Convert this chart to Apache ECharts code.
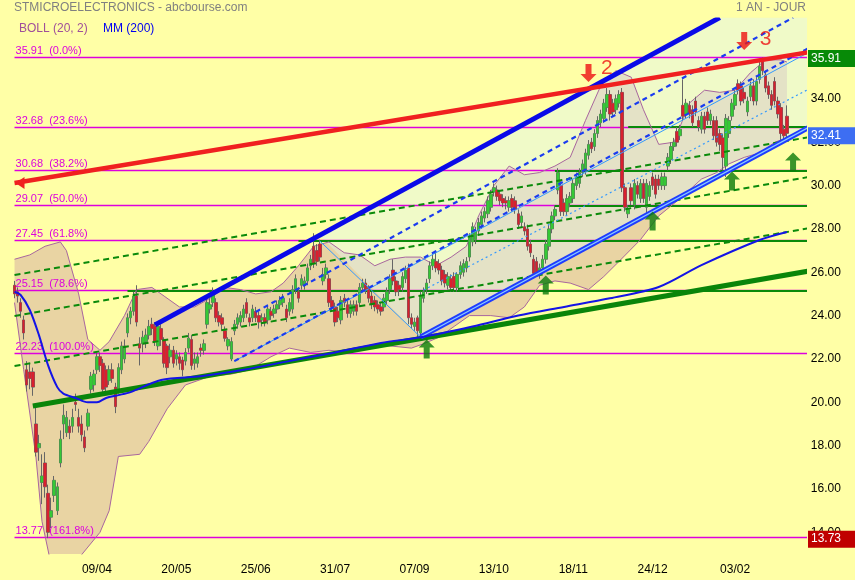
<!DOCTYPE html>
<html><head><meta charset="utf-8">
<script src="https://cdn.jsdelivr.net/npm/echarts@6/dist/echarts.min.js"></script>
<style>html,body{margin:0;padding:0;background:#ffffa6;}#c{width:855px;height:580px;}</style>
</head><body><div id="c"></div>
<script>
// ---------- DATA ----------
// daily candles [open, close, low, high], from 03/03/2020 to 26/02/2021
const candles = [
[25.4,25.0,24.8,25.6],[25.1,24.9,24.6,25.3],[24.6,24.2,23.9,24.8],[23.8,23.2,22.9,24.0],[21.5,20.8,20.5,21.9],
[21.4,21.1,20.6,21.8],[21.4,20.7,20.3,21.6],[19.0,17.7,17.5,19.9],[17.9,18.1,17.3,18.5],[16.3,16.6,15.3,17.6],
[17.2,16.1,15.6,17.7],[15.8,14.0,13.73,16.2],[14.7,15.0,14.2,15.6],[15.7,16.4,15.4,16.6],[15.0,16.1,14.8,16.3],
[17.2,18.3,17.0,18.7],[19.0,19.4,18.3,19.9],[18.6,19.3,18.4,19.6],[18.9,18.6,18.3,19.2],[18.9,19.3,18.6,19.7],
[20.0,19.9,19.6,20.4],[19.3,18.9,18.6,19.7],[19.0,18.5,18.2,19.4],[18.4,17.9,17.7,18.7],[18.9,19.5,18.7,19.7],
[20.6,21.2,20.4,21.4],[20.8,21.3,20.5,21.5],[21.5,22.1,21.3,22.3],[22.1,21.7,21.4,22.3],[21.8,20.6,20.4,22.0],
[21.5,20.7,20.4,21.7],[21.0,21.5,20.8,21.7],[21.5,21.1,20.9,21.8],[20.7,19.8,19.5,20.9],[20.6,21.6,20.4,21.8],
[21.5,22.6,21.3,22.8],[22.0,22.6,21.8,22.9],[23.2,23.9,23.0,24.1],[23.9,24.2,23.6,24.4],[24.2,24.9,24.0,25.1],
[24.9,23.7,23.5,25.4],[22.7,22.5,21.7,23.0],[22.7,23.0,22.3,23.3],[22.8,23.1,22.5,23.4],[23.1,23.5,22.9,23.8],
[23.6,23.4,23.1,23.9],[23.5,22.8,22.6,23.7],[22.6,23.5,22.4,23.7],[23.4,22.9,22.6,23.6],[22.9,21.8,21.6,23.0],
[22.6,21.6,21.3,22.7],[22.1,22.4,21.8,22.7],[22.4,21.8,21.6,22.6],[22.0,22.2,21.7,22.4],[22.1,21.8,21.5,22.3],
[21.95,21.5,21.2,22.1],[21.9,22.3,21.7,22.5],[22.5,22.96,22.3,23.2],[22.9,21.7,21.5,23.1],[21.8,22.0,21.5,22.3],
[21.8,22.1,21.6,22.3],[22.5,22.4,22.1,22.7],[22.4,22.7,22.2,22.9],[23.6,24.6,23.4,24.9],[24.3,24.5,24.1,24.8],
[24.6,25.1,24.4,25.3],[24.6,23.9,23.7,24.8],[24.0,23.7,23.5,24.2],[23.9,23.6,23.3,24.1],[23.3,22.95,22.8,23.5],
[22.6,22.9,22.4,23.0],[22.0,22.8,21.9,23.0],[23.3,23.6,23.1,23.8],[23.6,23.9,23.4,24.1],[23.7,24.0,23.5,24.2],
[23.9,24.3,23.7,24.5],[24.6,24.1,23.9,24.8],[23.9,23.7,23.5,24.1],[23.9,24.3,23.7,24.5],[24.2,23.9,23.7,24.4],
[24.0,23.7,23.4,24.2],[23.8,23.9,23.5,24.1],[23.9,23.7,23.5,24.1],[23.8,24.3,23.6,24.5],[24.2,24.0,23.8,24.4],
[24.1,24.3,23.9,24.5],[24.3,24.5,24.1,24.7],[24.5,24.7,24.3,24.9],[24.6,24.8,24.4,25.0],[24.3,23.9,23.7,24.5],
[24.2,24.6,24.0,24.8],[24.3,25.2,24.1,25.4],[25.2,25.7,25.0,25.9],[25.1,24.8,24.6,25.3],[25.4,25.7,25.2,25.9],
[25.4,25.6,25.2,25.8],[25.6,26.2,25.4,26.4],[26.3,26.6,26.1,26.8],[27.2,26.4,26.2,27.8],[27.0,26.5,26.3,27.3],
[27.3,26.7,26.5,27.5],[25.6,25.9,25.4,26.2],[25.9,26.2,25.7,26.4],[25.7,24.6,24.4,25.9],[24.7,24.4,24.2,24.9],
[24.4,23.7,23.5,24.6],[24.2,23.9,23.7,24.4],[23.8,24.7,23.6,24.9],[24.8,24.6,24.4,25.0],[24.5,24.1,23.9,24.7],
[24.1,24.5,23.9,24.7],[24.2,24.5,24.0,24.7],[24.5,24.2,24.0,24.7],[24.6,25.3,24.4,25.5],[25.3,25.5,25.1,25.7],
[25.5,25.2,25.0,25.7],[25.3,24.8,24.6,25.4],[24.9,24.5,24.3,25.1],[24.7,24.4,24.2,24.9],[24.5,24.3,24.1,24.7],
[24.4,24.2,24.0,24.6],[24.4,24.8,24.2,25.0],[24.7,25.1,24.5,25.3],[25.2,25.7,25.0,25.9],[26.1,25.6,25.4,26.6],
[25.6,25.1,24.9,25.8],[25.4,25.2,24.9,25.6],[25.3,25.8,25.1,26.0],[25.7,26.1,25.5,26.3],[26.2,23.9,23.6,26.4],
[23.9,23.6,23.4,24.1],[23.5,23.7,23.3,23.9],[23.9,23.3,22.97,24.0],[23.2,24.9,23.0,25.1],[24.8,25.1,24.6,25.3],
[25.2,25.5,25.0,25.7],[25.7,26.3,25.5,26.5],[26.3,26.6,26.1,26.8],[26.5,26.2,26.0,26.9],[26.4,26.1,25.9,26.6],
[26.1,25.6,25.4,26.3],[25.9,25.5,25.3,26.1],[25.4,25.8,25.2,26.0],[25.7,25.3,25.1,25.9],[25.8,25.3,25.1,26.0],
[25.3,25.9,25.1,26.0],[25.9,26.3,25.7,26.5],[26.0,26.4,25.8,26.6],[26.2,26.5,26.0,26.7],[26.7,27.6,26.5,27.8],
[27.4,28.1,27.2,28.3],[27.5,27.9,27.3,28.1],[27.9,28.3,27.7,28.5],[28.2,28.6,28.0,28.8],[28.5,28.8,28.3,29.0],
[28.7,29.3,28.5,29.5],[29.0,29.6,28.8,29.8],[29.7,29.9,29.5,30.1],[29.8,29.5,29.3,30.0],[29.6,29.3,29.1,29.8],
[29.4,29.2,29.0,29.6],[29.3,29.2,28.9,29.5],[29.0,29.3,28.8,29.5],[29.4,29.0,28.8,29.6],[29.3,28.9,28.7,29.5],
[28.7,28.2,28.0,28.9],[28.3,28.6,28.1,28.8],[28.1,27.9,27.7,28.3],[28.0,27.2,27.0,28.2],[27.3,26.9,26.7,27.5],
[26.6,25.95,25.8,26.8],[26.5,26.0,25.8,26.7],[25.9,26.2,25.7,26.4],[26.2,26.6,26.0,26.8],[26.6,27.3,26.4,27.5],
[27.2,28.0,27.0,28.2],[28.0,28.6,27.8,28.8],[28.6,28.9,28.4,29.1],[29.8,30.6,29.6,30.8],[30.0,28.8,28.6,30.2],
[29.2,28.8,28.6,29.4],[28.8,29.4,28.6,29.6],[29.2,29.5,29.0,29.7],[29.4,30.1,29.2,30.3],[30.0,30.4,29.8,30.6],
[30.1,30.6,29.9,30.8],[30.6,31.0,30.4,31.2],[30.7,31.5,30.5,31.7],[31.4,31.9,31.2,32.1],[32.0,31.7,31.5,32.2],
[31.8,32.4,31.6,32.6],[32.4,33.0,32.2,33.2],[32.9,33.3,32.7,33.5],[33.1,33.8,32.9,34.0],[33.6,34.2,33.4,34.5],
[34.2,33.3,33.0,34.4],[33.8,33.4,33.2,34.0],[33.5,34.0,33.3,34.2],[33.8,34.2,33.6,34.4],[34.3,29.9,29.7,34.5],
[29.9,29.0,28.8,30.1],[28.7,28.9,28.5,29.1],[29.9,29.3,29.1,30.1],[29.1,30.1,28.9,30.3],[30.0,29.6,29.4,30.2],
[29.4,30.1,29.2,30.3],[30.1,29.4,29.2,30.3],[29.0,30.1,28.6,30.3],[29.5,30.0,29.3,30.2],[30.4,30.0,29.8,30.6],
[30.3,29.6,29.4,30.5],[30.3,30.0,29.8,30.5],[30.0,30.4,29.8,30.6],[30.0,30.4,29.8,30.6],[30.9,31.3,30.7,31.5],
[31.2,31.8,31.0,32.0],[31.8,32.0,31.6,32.2],[32.5,32.0,31.8,32.7],[32.3,32.6,32.1,32.8],[33.7,33.2,33.0,34.9],
[33.3,33.8,33.1,34.0],[33.7,33.3,33.1,33.9],[33.5,32.9,32.7,33.7],[33.9,33.4,33.2,34.1],[33.0,32.7,32.5,33.2],
[32.6,33.2,32.4,33.4],[33.2,32.6,32.4,33.4],[33.4,33.0,32.8,33.6],[33.0,33.3,32.8,33.5],[33.0,32.3,32.1,33.2],
[33.0,32.0,31.8,33.2],[32.4,31.9,31.6,32.6],[32.2,31.3,30.7,32.4],[30.9,33.1,30.4,33.3],[32.4,33.0,32.2,33.2],
[33.2,33.8,33.0,34.0],[33.7,34.2,33.5,34.4],[34.7,34.4,34.2,34.9],[34.6,33.9,33.7,34.8],[34.3,34.0,33.8,34.5],
[33.4,33.9,33.2,34.1],[34.1,34.6,33.9,34.8],[34.6,33.9,33.7,34.9],[33.9,34.8,33.7,35.0],[34.9,35.5,34.7,35.7],
[35.7,35.3,35.1,35.91],[35.1,34.5,34.3,35.3],[34.6,34.2,34.0,34.8],[34.2,33.7,33.5,34.4],[34.8,33.9,33.7,35.0],
[33.9,33.3,33.1,34.1],[33.6,32.4,32.1,33.8],[32.6,32.3,32.0,32.8],[33.2,32.41,32.1,33.7]
];
const tickLabels = ['09/04','20/05','25/06','31/07','07/09','13/10','18/11','24/12','03/02'];
const yTicks = [14,16,18,20,22,24,26,28,30,32,34,36];
// Bollinger (20,2) bands: [candle index, price]
const bollUpper = [[0,26.6],[5,26.8],[10,27.2],[15,27.4],[17,27.0],[21,25.0],[24,22.9],[28,22.4],[31,22.8],[36,24.0],[40,25.2],[45,25.3],[49,24.9],[54,24.4],[59,24.4],[64,24.8],[69,25.3],[74,25.2],[79,25.0],[84,25.1],[88,25.5],[93,26.3],[98,27.2],[103,27.4],[108,26.9],[113,26.8],[118,26.3],[123,26.6],[128,26.7],[133,26.7],[138,26.3],[143,26.7],[148,27.2],[152,28.6],[157,30.0],[162,30.9],[167,30.5],[172,30.6],[177,30.9],[182,31.3],[187,33.0],[192,34.6],[197,35.3],[202,35.0],[206,33.5],[211,31.9],[216,32.0],[221,33.8],[226,34.4],[231,34.3],[236,34.4],[241,35.2],[246,35.8],[251,35.8],[253,35.7]];
const bollLower = [[0,24.6],[3,21.5],[7,17.5],[9,14.5],[12,12.5],[16,12.5],[21,12.8],[28,14.0],[31,15.0],[34,17.5],[41,17.6],[44,18.2],[50,19.7],[56,20.8],[64,21.2],[71,21.3],[77,21.5],[84,22.1],[90,22.5],[97,22.3],[103,22.4],[110,22.3],[116,22.6],[123,22.6],[130,22.5],[134,22.7],[139,23.0],[144,23.5],[149,24.0],[156,24.0],[162,23.9],[167,24.4],[172,25.4],[177,25.6],[182,25.5],[188,25.2],[193,25.8],[198,26.5],[205,27.5],[211,28.6],[218,29.4],[225,30.3],[230,30.6],[234,31.0],[239,31.3],[244,31.5],[249,32.0],[253,32.2]];
// MM(200)
const ma200 = [[0,25.1],[2,24.95],[5,24.26],[8,23.1],[11,21.7],[14,20.7],[16,20.4],[20,20.2],[24,20.0],[27,20.0],[30,20.2],[34,20.33],[38,20.47],[48,21.03],[61,21.2],[75,21.5],[90,21.9],[105,22.3],[120,22.74],[133,23.0],[150,23.5],[165,24.0],[180,24.4],[195,24.8],[211,25.32],[225,26.33],[244,27.49],[253,27.86]];
// Fibonacci retracement levels
const fibLevels = [35.91,32.68,30.68,29.07,27.45,25.15,22.23,13.77];
const fibPct = ['0.0%','23.6%','38.2%','50.0%','61.8%','78.6%','100.0%','161.8%'];
// support levels drawn in green: [price, first candle index]
const supportLevels = [[25.15,36.8],[27.45,92.8],[29.07,177.4],[30.68,176.7],[32.68,201.3]];
// trend lines: [index1, price1, index2, price2]
const resistanceLine = [-0.5,30.12,259.5,36.15];
const channelTop = [46.0,23.57,231.3,37.75];
const channelBottom = [132.8,23.01,259.5,32.675];
const supportLine = [6.05,19.83,259.5,26.05];
const dashedGreen = [[-0.5,25.87,259.5,32.23],[-0.5,23.98,259.5,30.39],[-0.5,21.67,259.5,28.03]];
const dashedBlue = [[78.8,24.17,255.0,37.75],[71.6,21.90,259.5,36.34]];
const thinBlue = [[71.6,21.90,259.5,36.14],[100.06,27.44,132.8,23.01]];
const dottedBlue = [[133.8,25.18,259.5,34.44]];
const channelArea = [[100.06,27.70],[231.3,37.75],[259.5,37.75],[259.5,32.675],[132.8,23.01]];
// signals
const upArrows = [[135.1,22.46],[174.4,25.41],[209.4,28.36],[235.3,30.21],[254.7,31.09]];
const downArrows = [[187.5,35.19],[238.6,36.67]];
const waveLabels = [[193.7,35.43,'2'],[245.8,36.76,'3']];
// price tags: [price, kind]
const priceTags = [[35.91,'high'],[32.41,'last'],[13.73,'low']];

// ---------- AXIS CATEGORIES ----------
const holidays = ['2020-04-10','2020-04-13','2020-05-01','2020-12-25','2021-01-01'];
const dates = [];
for (let d = new Date(Date.UTC(2020,2,3)); dates.length < 260; d.setUTCDate(d.getUTCDate()+1)) {
  const wd = d.getUTCDay(); if (wd === 0 || wd === 6) continue;
  const iso = d.toISOString().slice(0,10); if (holidays.includes(iso)) continue;
  dates.push(iso.slice(8,10)+'/'+iso.slice(5,7)+'/'+iso.slice(0,4));
}

// ---------- CHART ----------
const FONT = '"Liberation Sans", Arial, sans-serif';
const chart = echarts.init(document.getElementById('c'), null, {renderer:'canvas'});
const one = [[0, 20]];
const GREEN = '#0a8a0a', MAG = '#dd00dd';

function seg(api, l, style) {
  const a = api.coord([l[0], l[1]]), b = api.coord([l[2], l[3]]);
  return {type:'line', shape:{x1:a[0],y1:a[1],x2:b[0],y2:b[1]}, style: style};
}
function hline(api, i1, i2, v, w, style) {
  const a = api.coord([i1, v]), b = api.coord([i2, v]);
  const y = w % 2 ? Math.round(a[1] - 0.5) + 0.5 : Math.round(a[1]);
  return {type:'line', shape:{x1:a[0],y1:y,x2:b[0],y2:y}, style: style};
}

const series = [
  { // Bollinger fill
    type:'custom', data: one, clip:true, silent:true, z:1,
    renderItem:(p, api) => {
      const pts = bollUpper.map(d => api.coord(d)).concat(bollLower.slice().reverse().map(d => api.coord(d)));
      return {type:'polygon', shape:{points:pts}, style:{fill:'#e9d4a3'}};
    }
  },
  { // channel fill
    type:'custom', data: one, clip:true, silent:true, z:1,
    renderItem:(p, api) => ({type:'polygon', shape:{points: channelArea.map(d => api.coord(d))}, style:{fill:'rgba(222,244,242,0.45)'}})
  },
  {type:'line', data: bollUpper, showSymbol:false, silent:true, z:2, lineStyle:{color:'#a8669e', width:1}},
  {type:'line', data: bollLower, showSymbol:false, silent:true, z:2, lineStyle:{color:'#a8669e', width:1}},
  { // fibonacci lines + labels
    type:'custom', data: fibLevels.map(v => [0, v]), clip:true, silent:true, z:2,
    renderItem:(p, api) => {
      const v = fibLevels[p.dataIndex];
      const ln = hline(api, -0.5, 259.5, v, 1, {stroke:MAG, lineWidth:1.5});
      return {type:'group', children:[ ln,
        {type:'text', x:ln.shape.x1+1, y:ln.shape.y1-1, style:{text: v.toFixed(2)+'  ('+fibPct[p.dataIndex]+')', fill:MAG, font:'11px '+FONT, align:'left', verticalAlign:'bottom'}}
      ]};
    }
  },
  { // green supports
    type:'custom', data: supportLevels.map(s => [0, s[0]]), clip:true, silent:true, z:2,
    renderItem:(p, api) => { const s = supportLevels[p.dataIndex]; return hline(api, s[1], 259.5, s[0], 2, {stroke:GREEN, lineWidth:2}); }
  },
  { // candle wicks
    type:'candlestick', data: candles, barWidth:3, silent:true, z:3,
    itemStyle:{color:'rgba(0,0,0,0)', color0:'rgba(0,0,0,0)', borderColor:'#666', borderColor0:'#666', borderWidth:1}
  },
  { // candle bodies
    type:'candlestick', data: candles, barWidth:3, silent:true, z:3,
    itemStyle:{color:'#35c935', color0:'#d9202e', borderColor:'#35c935', borderColor0:'#d9202e', borderWidth:0}
  },
  { // trend lines
    type:'custom', data: one, clip:true, silent:true, z:4,
    renderItem:(p, api) => {
      const ch = [];
      dashedGreen.forEach(l => ch.push(seg(api, l, {stroke:GREEN, lineWidth:2, lineDash:[6,4]})));
      thinBlue.forEach(l => ch.push(seg(api, l, {stroke:'#3399ff', lineWidth:1})));
      dottedBlue.forEach(l => ch.push(seg(api, l, {stroke:'#3399ff', lineWidth:1.2, lineDash:[2,3]})));
      dashedBlue.forEach(l => ch.push(seg(api, l, {stroke:'#1a3cf0', lineWidth:2.2, lineDash:[5,4]})));
      ch.push(seg(api, supportLine, {stroke:'#0a850a', lineWidth:5}));
      ch.push(seg(api, channelTop, {stroke:'#0a0ae8', lineWidth:5}));
      ch.push(seg(api, channelBottom, {stroke:'#1e3cff', lineWidth:5}));
      ch.push(seg(api, channelBottom, {stroke:'#8ccaff', lineWidth:1.2}));
      ch.push(seg(api, resistanceLine, {stroke:'#f02020', lineWidth:4.5}));
      const a = api.coord([resistanceLine[0], resistanceLine[1]]);
      ch.push({type:'polygon', shape:{points:[[a[0]+1,a[1]],[a[0]+10,a[1]-6],[a[0]+10,a[1]+6]]}, style:{fill:'#f02020'}});
      return {type:'group', children: ch};
    }
  },
  {type:'line', data: ma200, showSymbol:false, silent:true, z:4, smooth:0.3, lineStyle:{color:'#1414e6', width:2}},
  {type:'scatter', data: upArrows, silent:true, z:5, symbol:'path://M8 0 L16 8 L11 8 L11 19 L5 19 L5 8 L0 8 Z', symbolSize:[16,19], itemStyle:{color:'#0a7a0a'}},
  {type:'scatter', data: downArrows, silent:true, z:5, symbol:'path://M5 0 L11 0 L11 10 L16 10 L8 18 L0 10 L5 10 Z', symbolSize:[16,18], itemStyle:{color:'#ee1111'}},
  {type:'scatter', data: waveLabels.map(w => [w[0], w[1]]), silent:true, z:5, symbolSize:0,
   label:{show:true, position:'inside', formatter: q => waveLabels[q.dataIndex][2], color:'#ee1111', fontSize:21, fontFamily:FONT}},
  { // price tags
    type:'custom', data: priceTags.map(t => [0, t[0]]), clip:false, silent:true, z:6,
    renderItem:(p, api) => {
      const t = priceTags[p.dataIndex];
      const y = api.coord([0, t[0]])[1] + (t[1]==='last' ? 2.5 : 1);
      const bg = {high:'#078a07', last:'#3d6ef2', low:'#c00000'}[t[1]];
      return {type:'group', children:[
        {type:'rect', shape:{x:808, y:y-8.5, width:47, height:17}, style:{fill:bg}},
        {type:'text', x:811, y:y, style:{text:t[0].toFixed(2), fill:'#fff', font:'12px '+FONT, align:'left', verticalAlign:'middle'}}
      ]};
    }
  }
];

chart.setOption({
  backgroundColor:'#ffffa6',
  animation:false,
  grid:{left:13, right:48.2, top:17.6, bottom:26},
  xAxis:{type:'category', data:dates, boundaryGap:true, axisLine:{show:false}, axisTick:{show:false}, splitLine:{show:false},
    axisLabel:{interval:(i,v) => tickLabels.includes(v.slice(0,5)), formatter: v => v.slice(0,5), color:'#000', fontSize:12, fontFamily:FONT, margin:10}},
  yAxis:{type:'value', position:'right', min:13, max:37.75, splitLine:{show:false}, axisLine:{show:false}, axisTick:{show:false},
    axisLabel:{customValues:yTicks, formatter: v => v.toFixed(2), color:'#000', fontSize:12, fontFamily:FONT, margin:4}},
  graphic:[
    {type:'text', left:14, top:2, style:{text:'STMICROELECTRONICS - abcbourse.com', fill:'#808080', font:'12px '+FONT}},
    {type:'text', left:19, top:23, style:{text:'BOLL (20, 2)', fill:'#a0509a', font:'12px '+FONT}},
    {type:'text', left:103, top:23, style:{text:'MM (200)', fill:'#0000f0', font:'12px '+FONT}},
    {type:'text', right:49, top:2, style:{text:'1 AN - JOUR', fill:'#808080', font:'12px '+FONT}}
  ],
  series: series
});
</script></body></html>
